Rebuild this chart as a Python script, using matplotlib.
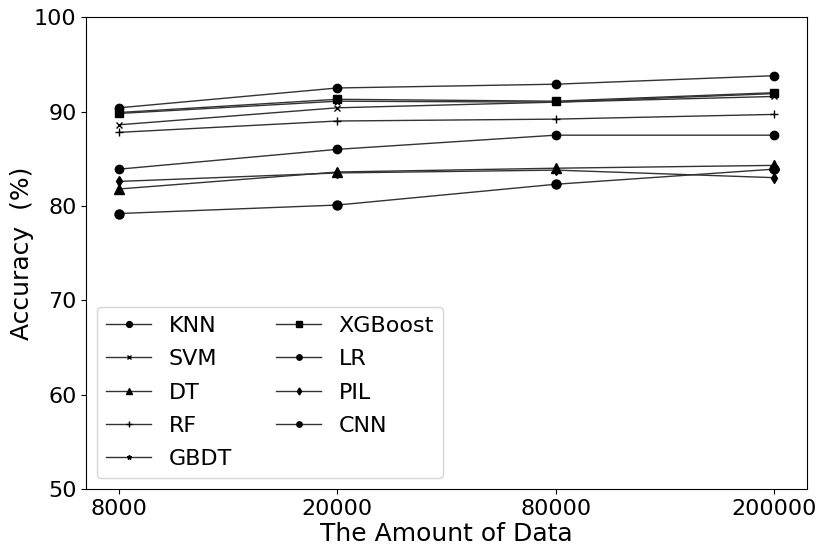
import matplotlib
matplotlib.use("Agg")
import matplotlib.pyplot as plt

categories = ["8000", "20000", "80000", "200000"]
knn = [79.2, 80.1, 82.3, 83.9]
svm = [88.6, 90.4, 91.0, 91.6]
dt = [81.8, 83.6, 84.0, 84.3]
rf = [87.8, 89.0, 89.2, 89.7]
gbdt = [89.8, 91.1, 91.0, 91.9]
xgboost = [89.9, 91.3, 91.1, 92.0]
lr = [83.9, 86.0, 87.5, 87.5]
pil = [82.6, 83.5, 83.8, 83.0]
cnn = [90.4, 92.5, 92.9, 93.8]

series = [
    ("KNN", knn, "o", 6.5),
    ("SVM", svm, "x", 5),
    ("DT", dt, "^", 6.5),
    ("RF", rf, "+", 6),
    ("GBDT", gbdt, "*", 5),
    ("XGBoost", xgboost, "s", 6),
    ("LR", lr, "o", 6),
    ("PIL", pil, "d", 5.5),
    ("CNN", cnn, "o", 6),
]

fig, ax = plt.subplots(figsize=(8.3, 5.54), dpi=100)
x = list(range(len(categories)))
for name, vals, m, ms in series:
    ax.plot(x, vals, marker=m, markersize=ms, color="0.2", lw=1.0,
            markerfacecolor="black", markeredgecolor="black", label=name)

ax.set_xticks(x)
ax.set_xticklabels(categories)
ax.set_ylim(50, 100)
ax.set_xlim(-0.15, 3.15)
ax.tick_params(labelsize=16)
ax.set_xlabel("The Amount of Data", fontsize=18, labelpad=2)
ax.set_ylabel("Accuracy  (%)", fontsize=18, labelpad=0)
ax.legend(loc="lower left", ncol=2, fontsize=16, columnspacing=2.0,
          handlelength=2.0, labelspacing=0.6, markerscale=0.65)
fig.subplots_adjust(left=0.104, right=0.972, top=0.969, bottom=0.117)
fig.savefig("out.png", dpi=100)
